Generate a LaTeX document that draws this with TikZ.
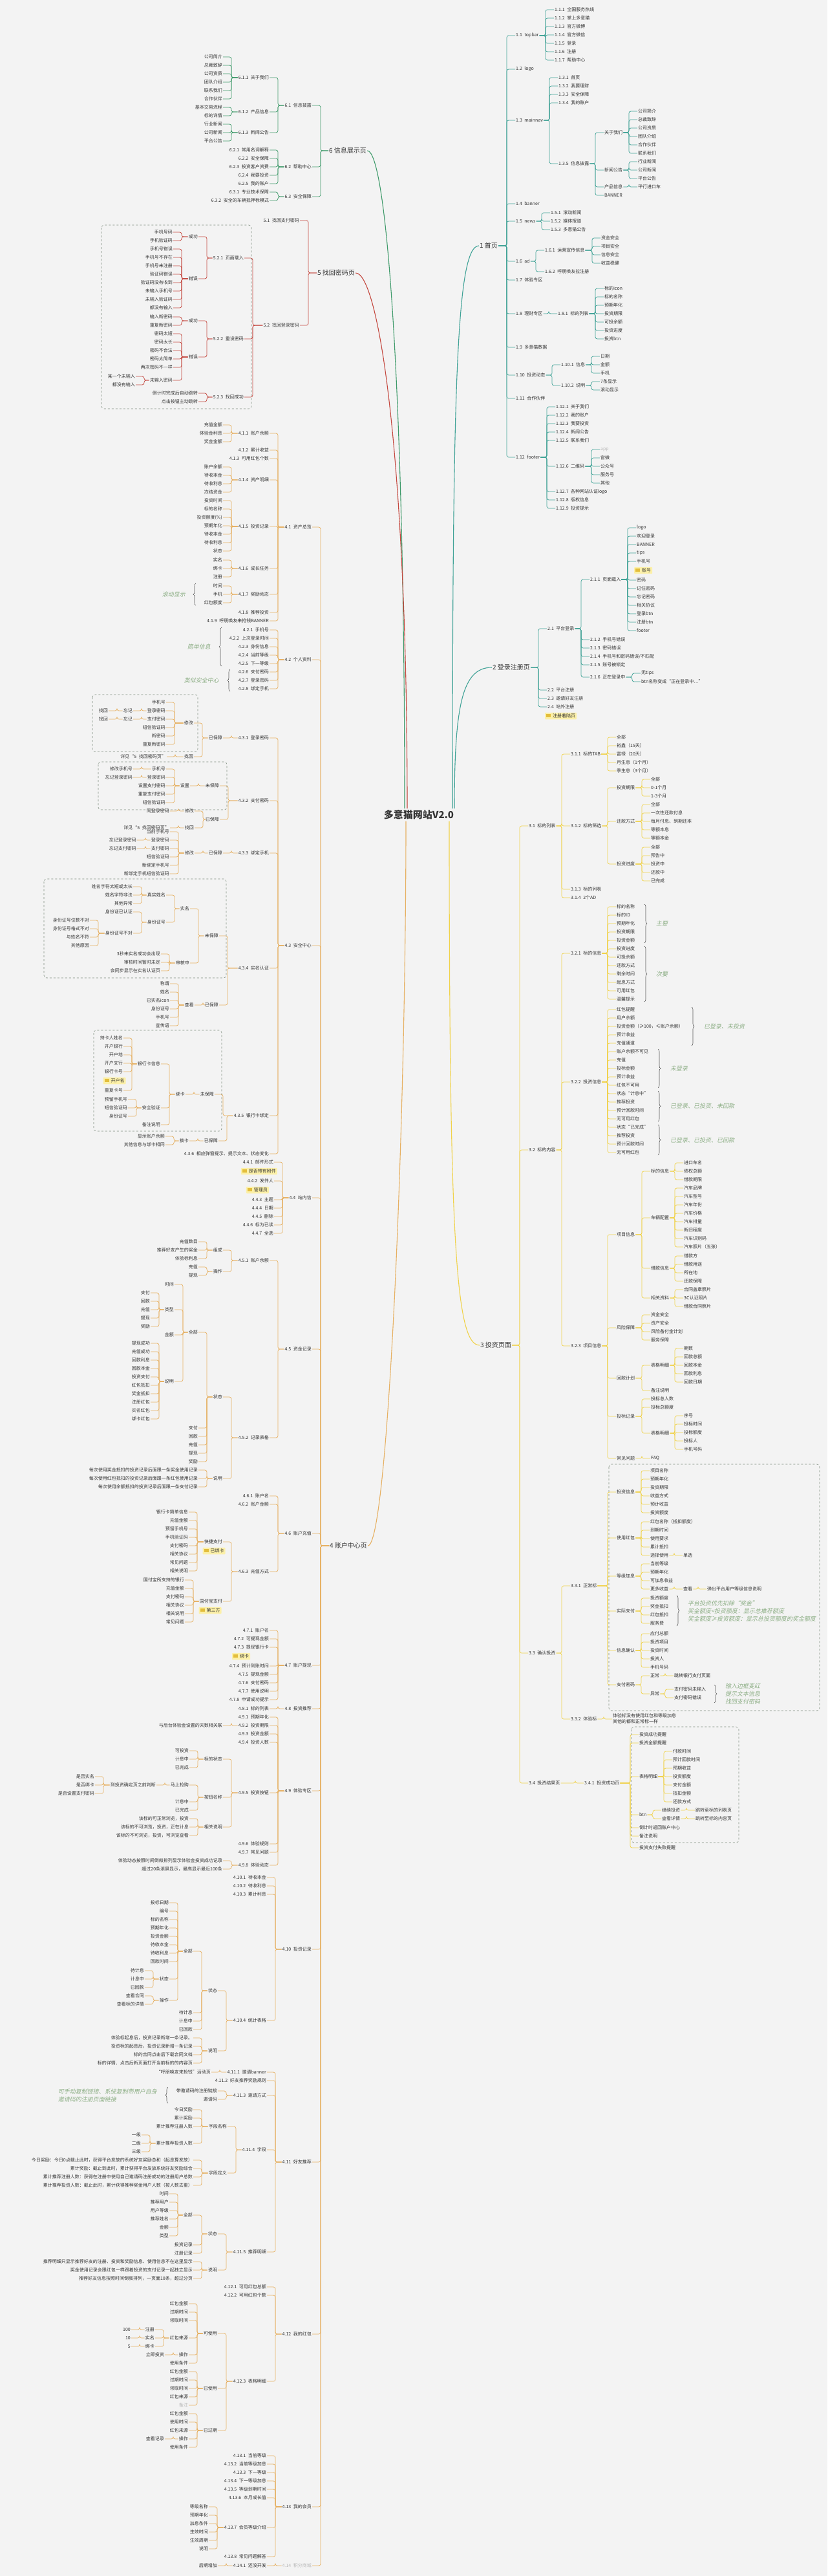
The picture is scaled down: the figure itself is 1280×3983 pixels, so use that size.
\documentclass[tikz,border=0pt]{standalone}
\usepackage{fontspec}
\setmainfont{Noto Sans CJK SC}
\newfontfamily\cjkit[FakeSlant=0.2]{Noto Sans CJK SC}
\usetikzlibrary{decorations.pathreplacing,calc}
\definecolor{bg}{HTML}{F3F3F3}
\definecolor{txt}{HTML}{333333}
\definecolor{c1}{HTML}{3FA296}
\definecolor{c3}{HTML}{F0D24A}
\definecolor{c4}{HTML}{E6B062}
\definecolor{c5}{HTML}{C4483F}
\definecolor{c6}{HTML}{3E9A6A}
\definecolor{gcol}{HTML}{8DAF86}
\definecolor{notefill}{HTML}{FCF0A8}
\definecolor{icon}{HTML}{E3BE3C}
\definecolor{dashcol}{HTML}{7D8C7D}
\definecolor{bracecol}{HTML}{555555}
\colorlet{lc}{c1}
\newcommand\fs{\fontsize{7}{9}\selectfont\spaceskip=3.5pt\relax}
\newcommand\gfs{\cjkit\fontsize{9}{12}\selectfont}
\newcommand\noteicon{{\color{icon}\rule[0.3pt]{7pt}{5pt}}\hspace{3pt}}
% right-side child: parent, name, x(west), y, text
\newcommand\kidR[5]{\node[t,anchor=west] (#2) at (#3,#4) {#5};
  \draw[ln] (#2.west) -- ++(-13,0) |- (#1.east);}
% left-side child: parent, name, x(east), y, text
\newcommand\kidL[5]{\node[t,anchor=east] (#2) at (#3,#4) {#5};
  \draw[ln] (#2.east) -- ++(13,0) |- (#1.west);}
\newcommand\grpR[5]{\foreach \xx [count=\i] in {#5}{%
  \node[t,anchor=west] (#2\i) at (#3,{#4+(\i-1)*13}) {\xx};
  \draw[ln] (#2\i.west) -- ++(-13,0) |- (#1.east);}}
\newcommand\grpL[5]{\foreach \xx [count=\i] in {#5}{%
  \node[t,anchor=east] (#2\i) at (#3,{#4+(\i-1)*13}) {\xx};
  \draw[ln] (#2\i.east) -- ++(13,0) |- (#1.west);}}
\begin{document}
\begin{tikzpicture}[x=1pt,y=-1pt,
  t/.style={font=\fs, text=txt, inner sep=1pt},
  big/.style={font=\fontsize{10}{12}\selectfont, text=txt, inner sep=1pt},
  ln/.style={draw=lc, line width=0.75pt, rounded corners=3pt},
  rootln/.style={line width=1.1pt},
  note/.style={t, fill=notefill, inner sep=2pt, rounded corners=1pt},
  gn/.style={font=\gfs, text=gcol, inner sep=1pt, align=left},
  brc/.style={draw=bracecol, decorate, decoration={brace, amplitude=4pt}, line width=0.6pt},
  dbox/.style={draw=dashcol, dashed, rounded corners=4pt, line width=0.6pt}]
\useasboundingbox (0,0) rectangle (1280,3983);
\fill[bg] (0,0) rectangle (1280,3983);

% ---------------- root -----------------
\node[font=\fontsize{15}{17}\selectfont\bfseries, text=txt] (root) at (648,1260) {多意猫网站V2.0};
\node[big,anchor=west] (b1) at (741,380) {1 首页};
\node[big,anchor=west] (b2) at (761,1032) {2 登录注册页};
\node[big,anchor=west] (b3) at (742,2080) {3 投资页面};
\node[big,anchor=west] (b6) at (508,233) {6 信息展示页};
\node[big,anchor=west] (b5) at (490,422) {5 找回密码页};
\node[big,anchor=west] (b4) at (509,2390) {4 账户中心页};
\draw[rootln,c1] ($(root.north)+(52,1)$) .. controls (700,600) and (706,380) .. (b1.west);
\draw[rootln,c1] ($(root.north)+(55,1)$) .. controls (703,1090) and (715,1032) .. (b2.west);
\draw[rootln,c3] ($(root.south)+(47,-1)$) .. controls (695,1920) and (705,2080) .. (b3.west);
\draw[rootln,c6] ($(root.north)+(-22,1)$) .. controls (626,600) and (598,233) .. (b6.east);
\draw[rootln,c5] ($(root.north)+(-18,1)$) .. controls (630,700) and (585,422) .. (b5.east);
\draw[rootln,c4] ($(root.south)+(-20,-1)$) .. controls (628,1750) and (600,2390) .. (b4.east);

% ---------------- 1 ----------------
\colorlet{lc}{c1}
\kidR{b1}{a1}{797}{55}{1.1 topbar}
\kidR{b1}{a2}{797}{107}{1.2 logo}
\kidR{b1}{a3}{797}{186}{1.3 mainnav}
\kidR{b1}{a4}{797}{315}{1.4 banner}
\kidR{b1}{a5}{797}{342}{1.5 news}
\kidR{b1}{a6}{797}{404}{1.6 ad}
\kidR{b1}{a7}{797}{433}{1.7 体验专区}
\kidR{b1}{a8}{797}{485}{1.8 理财专区}
\kidR{b1}{a9}{797}{537}{1.9 多意猫数据}
\kidR{b1}{a10}{797}{580}{1.10 投资动态}
\kidR{b1}{a11}{797}{616}{1.11 合作伙伴}
\kidR{b1}{a12}{797}{707}{1.12 footer}
\grpR{a1}{a1-}{857}{15}{1.1.1 全国服务热线,1.1.2 掌上多意猫,1.1.3 官方微博,1.1.4 官方微信,1.1.5 登录,1.1.6 注册,1.1.7 帮助中心}
\grpR{a3}{a3-}{863}{120}{1.3.1 首页,1.3.2 我要理财,1.3.3 安全保障,1.3.4 我的账户}
\kidR{a3}{a35}{863}{253}{1.3.5 信息披露}
\kidR{a35}{g1}{934}{205}{关于我们}
\kidR{a35}{g2}{934}{263}{新闻公告}
\kidR{a35}{g3}{934}{289}{产品信息}
\kidR{a35}{g4}{934}{302}{BANNER}
\grpR{g1}{g1-}{986}{172}{公司简介,总裁致辞,公司资质,团队介绍,合作伙伴,联系我们}
\grpR{g2}{g2-}{986}{250}{行业新闻,公司新闻,平台公告}
\kidR{g3}{g31}{986}{289}{平行进口车}
\grpR{a5}{a5-}{851}{329}{1.5.1 滚动新闻,1.5.2 媒体报道,1.5.3 多意猫公告}
\kidR{a6}{a61}{842}{387}{1.6.1 运营宣传信息}
\kidR{a6}{a62}{842}{420}{1.6.2 呼朋唤友拉注册}
\grpR{a61}{a61-}{929}{368}{资金安全,项目安全,信息安全,收益稳健}
\kidR{a8}{a81}{862}{485}{1.8.1 标的列表}
\grpR{a81}{a81-}{934}{446}{标的icon,标的名称,预期年化,投资期限,可投余额,投资进度,投资btn}
\kidR{a10}{a101}{867}{564}{1.10.1 信息}
\kidR{a10}{a102}{867}{596}{1.10.2 说明}
\grpR{a101}{a101-}{928}{551}{日期,金额,手机}
\grpR{a102}{a102-}{928}{590}{7条显示,滚动显示}
\grpR{a12}{a12-}{859}{629}{1.12.1 关于我们,1.12.2 我的账户,1.12.3 我要投资,1.12.4 新闻公告,1.12.5 联系我们}
\kidR{a12}{a126}{859}{721}{1.12.6 二维码}
\grpR{a12}{a12x}{859}{760}{1.12.7 各种网站认证logo,1.12.8 版权信息,1.12.9 投资提示}
\grpR{a126}{a126-}{928}{695}{{\color{gray!55}app},官微,公众号,服务号,其他}

% ---------------- 2 ----------------
\kidR{b2}{d1}{846}{972}{2.1 平台登录}
\grpR{b2}{dx}{846}{1067}{2.2 平台注册,2.3 邀请好友注册,2.4 站外注册}
\node[note,anchor=west] (dn) at (843,1107) {\noteicon 注册着陆页};
\kidR{d1}{d11}{912}{896}{2.1.1 页面载入}
\grpR{d1}{d1x}{912}{989}{2.1.2 手机号错误,2.1.3 密码错误,2.1.4 手机号和密码错误/不匹配,2.1.5 账号被锁定}
\kidR{d1}{d16}{912}{1047}{2.1.6 正在登录中}
\grpR{d11}{d11a}{984}{816}{logo,欢迎登录,BANNER,tips,手机号}
\node[note,anchor=west] (d11n) at (981,882) {\noteicon 账号};
\grpR{d11}{d11b}{984}{897}{密码,记住密码,忘记密码,相关协议,登录btn,注册btn,footer}
\kidR{d16}{d161}{991}{1041}{无tips}
\kidR{d16}{d162}{991}{1054}{btn名称变成“正在登录中…”}

% ---------------- 3 ----------------
\colorlet{lc}{c3}
\kidR{b3}{e1}{817}{1277}{3.1 标的列表}
\kidR{b3}{e2}{817}{1778}{3.2 标的内容}
\kidR{b3}{e3}{817}{2556}{3.3 确认投资}
\kidR{b3}{e4}{817}{2757}{3.4 投资结果页}
\kidR{e1}{e11}{882}{1166}{3.1.1 标的TAB}
\kidR{e1}{e12}{882}{1277}{3.1.2 标的筛选}
\grpR{e1}{e1x}{882}{1375}{3.1.3 标的列表,3.1.4 2个AD}
\grpR{e11}{e11-}{953}{1140}{全部,裕鑫（15天）,富禄（20天）,月生息（1个月）,季生息（3个月）}
\kidR{e12}{f1}{953}{1218}{投资期限}
\kidR{e12}{f2}{953}{1270}{还款方式}
\kidR{e12}{f3}{953}{1336}{投资进度}
\grpR{f1}{f1-}{1006}{1205}{全部,0-1个月,1-3个月}
\grpR{f2}{f2-}{1006}{1244}{全部,一次性还款付息,每月付息、到期还本,等额本息,等额本金}
\grpR{f3}{f3-}{1006}{1310}{全部,预告中,投资中,还款中,已完成}
\kidR{e2}{e21}{882}{1474}{3.2.1 标的信息}
\kidR{e2}{e22}{882}{1673}{3.2.2 投资信息}
\kidR{e2}{e23}{882}{2081}{3.2.3 项目信息}
\grpR{e21}{e21-}{953}{1402}{标的名称,标的ID,预期年化,投资期限,投资金额,投资进度,可投余额,还款方式,剩余时间,起息方式,可用红包,温馨提示}
\draw[brc] (997,1398) -- (997,1458);
\node[gn,anchor=west] (gz1) at (1014,1428) {主要};
\draw[brc] (997,1463) -- (997,1549);
\node[gn,anchor=west] (gz2) at (1014,1506) {次要};
\grpR{e22}{e22-}{953}{1561}{红包提醒,用户余额,投资金额（≥100，≤账户余额）,预计收益,充值通道,账户余额不可见,充值,投标金额,预计收益,红包不可用,状态“计息中”,推荐投资,预计回款时间,无可用红包,状态“已完成”,推荐投资,预计回款时间,无可用红包}
\draw[brc] (1070,1557) -- (1070,1617);
\node[gn,anchor=west] (gz3) at (1088,1587) {已登录、未投资};
\draw[brc] (1018,1622) -- (1018,1682);
\node[gn,anchor=west] (gz4) at (1036,1652) {未登录};
\draw[brc] (1018,1687) -- (1018,1734);
\node[gn,anchor=west] (gz5) at (1036,1710) {已登录、已投资、未回款};
\draw[brc] (1018,1739) -- (1018,1786);
\node[gn,anchor=west] (gz6) at (1036,1763) {已登录、已投资、已回款};
\kidR{e23}{h1}{953}{1909}{项目信息}
\kidR{e23}{h2}{953}{2053}{风险保障}
\kidR{e23}{h3}{953}{2131}{回款计划}
\kidR{e23}{h4}{953}{2190}{投标记录}
\kidR{e23}{h5}{953}{2255}{常见问题}
\kidR{h1}{h11}{1006}{1811}{标的信息}
\kidR{h1}{h12}{1006}{1883}{车辆配置}
\kidR{h1}{h13}{1006}{1961}{借款信息}
\kidR{h1}{h14}{1006}{2007}{相关资料}
\grpR{h11}{h11-}{1057}{1798}{进口车名,债权总额,借款期限}
\grpR{h12}{h12-}{1057}{1837}{汽车品牌,汽车型号,汽车年份,汽车价格,汽车排量,新旧程度,汽车识别码,汽车照片（五张）}
\grpR{h13}{h13-}{1057}{1942}{借款方,借款用途,所在地,还款保障}
\grpR{h14}{h14-}{1057}{1994}{合同盖章照片,3C认证照片,借款合同照片}
\grpR{h2}{h2-}{1006}{2033}{资金安全,资产安全,风险备付金计划,服务保障}
\kidR{h3}{h31}{1006}{2111}{表格明细}
\kidR{h3}{h32}{1006}{2150}{备注说明}
\grpR{h31}{h31-}{1057}{2085}{期数,回款总额,回款本金,回款利息,回款日期}
\grpR{h4}{h4-}{1006}{2163}{投标总人数,投标总额度}
\kidR{h4}{h43}{1006}{2216}{表格明细}
\grpR{h43}{h43-}{1057}{2189}{序号,投标时间,投标额度,投标人,手机号码}
\kidR{h5}{h51}{1006}{2255}{FAQ}
\draw[dbox] (942,2264) rectangle (1268,2645);
\kidR{e3}{e31}{882}{2452}{3.3.1 正常标}
\kidR{e3}{e32}{882}{2658}{3.3.2 体验标}
\kidR{e31}{k1}{953}{2307}{投资信息}
\kidR{e31}{k2}{953}{2378}{使用红包}
\kidR{e31}{k3}{953}{2437}{等级加息}
\kidR{e31}{k4}{953}{2491}{实际支付}
\kidR{e31}{k5}{953}{2552}{信息确认}
\kidR{e31}{k6}{953}{2605}{支付密码}
\grpR{k1}{k1-}{1005}{2274}{项目名称,预期年化,投资期限,收益方式,预计收益,投资额度}
\grpR{k2}{k2-}{1005}{2353}{红包名称（抵扣额度）,到期时间,使用要求,累计抵扣,选择使用}
\kidR{k2-5}{k25}{1056}{2405}{单选}
\grpR{k3}{k3-}{1005}{2418}{当前等级,预期年化,可加息收益,更多收益}
\kidR{k3-4}{k34}{1056}{2457}{查看}
\kidR{k34}{k35}{1093}{2457}{弹出平台用户等级信息说明}
\grpR{k4}{k4-}{1005}{2471}{投资额度,奖金抵扣,红包抵扣,服务费}
\draw[brc] (1047,2467) -- (1047,2514);
\node[gn,anchor=west] (gz7) at (1063,2491) {平台投资优先扣除“奖金”\\奖金额度<投资额度：显示总推荐额度\\奖金额度≥投资额度：显示总投资额度的奖金额度};
\grpR{k5}{k5-}{1005}{2526}{应付总额,投资项目,投资时间,投资人,手机号码}
\kidR{k6}{k61}{1005}{2591}{正常}
\kidR{k6}{k62}{1005}{2619}{异常}
\kidR{k61}{k611}{1042}{2591}{跳转银行支付页面}
\grpR{k62}{k62-}{1042}{2612}{支付密码未输入,支付密码错误}
\draw[brc] (1105,2605) -- (1105,2633);
\node[gn,anchor=west] (gz8) at (1121,2619) {输入边框变红\\提示文本信息\\找回支付密码};
\kidR{e32}{e321}{947}{2658}{\begin{tabular}{@{}l@{}}体验标没有使用红包和等级加息\\其他的都和正常标一样\end{tabular}}
\kidR{e4}{e41}{903}{2757}{3.4.1 投资成功页}
\grpR{e41}{m}{988}{2682}{投资成功提醒,投资金额提醒}
\kidR{e41}{m3}{988}{2747}{表格明细}
\kidR{e41}{m4}{988}{2806}{btn}
\grpR{e41}{m5x}{988}{2826}{倒计时返回账户中心,备注说明}
\kidR{e41}{m7}{988}{2857}{投资支付失败提醒}
\grpR{m3}{m3-}{1040}{2708}{付款时间,预计回款时间,预期收益,投资额度,支付金额,抵扣金额,还款方式}
\grpR{m4}{m4-}{1023}{2799}{继续投资,查看详情}
\kidR{m4-1}{m41}{1075}{2799}{跳转至标的列表页}
\kidR{m4-2}{m42}{1075}{2812}{跳转至标的内容页}
\draw[dbox] (977,2670) rectangle (1143,2849);

% ---------------- 6 ----------------
\colorlet{lc}{c6}
\kidL{b6}{p1}{483}{163}{6.1 信息披露}
\kidL{b6}{p2}{483}{258}{6.2 帮助中心}
\kidL{b6}{p3}{483}{304}{6.3 安全保障}
\kidL{p1}{p11}{417}{120}{6.1.1 关于我们}
\kidL{p1}{p12}{417}{173}{6.1.2 产品信息}
\kidL{p1}{p13}{417}{205}{6.1.3 新闻公告}
\grpL{p11}{p11-}{345}{88}{公司简介,总裁致辞,公司资质,团队介绍,联系我们,合作伙伴}
\grpL{p12}{p12-}{345}{166}{基本交易流程,标的详情}
\grpL{p13}{p13-}{345}{192}{行业新闻,公司新闻,平台公告}
\grpL{p2}{p2-}{417}{232}{6.2.1 常用名词解释,6.2.2 安全保障,6.2.3 投资客户资费,6.2.4 我要投资,6.2.5 我的账户}
\grpL{p3}{p3-}{417}{297}{6.3.1 专业技术保障,6.3.2 安全的车辆抵押标模式}

% ---------------- 5 ----------------
\colorlet{lc}{c5}
\kidL{b5}{q1}{464}{341}{5.1 找回支付密码}
\kidL{b5}{q2}{464}{503}{5.2 找回登录密码}
\kidL{q2}{q21}{378}{399}{5.2.1 页面载入}
\kidL{q2}{q22}{378}{524}{5.2.2 重设密码}
\kidL{q2}{q23}{378}{614}{5.2.3 找回成功}
\kidL{q21}{r1}{307}{366}{成功}
\kidL{q21}{r2}{307}{431}{错误}
\grpL{r1}{r1-}{268}{359}{手机号码,手机验证码}
\grpL{r2}{r2-}{268}{385}{手机号错误,手机号不存在,手机号未注册,验证码错误,验证码没有收到,未输入手机号,未输入验证码,都没有输入}
\kidL{q22}{r3}{307}{496}{成功}
\kidL{q22}{r4}{307}{552}{错误}
\grpL{r3}{r3-}{268}{490}{输入新密码,重复新密码}
\grpL{r4}{r4-}{268}{516}{密码太短,密码太长,密码不合法,密码太简单,两次密码不一样}
\kidL{r4}{r46}{268}{588}{未输入密码}
\grpL{r46}{r46-}{210}{582}{某一个未输入,都没有输入}
\grpL{q23}{q23-}{307}{608}{倒计时完成后自动跳转,点击按钮主动跳转}
\draw[dbox] (157,348) rectangle (389,632);

% ---------------- 4 ----------------
\colorlet{lc}{c4}
\kidL{b4}{B1}{483}{815}{4.1 资产总览}
\kidL{b4}{B2}{483}{1020}{4.2 个人资料}
\kidL{b4}{B3}{483}{1462}{4.3 安全中心}
\kidL{b4}{B4}{483}{1852}{4.4 站内信}
\kidL{b4}{B5}{483}{2086}{4.5 资金记录}
\kidL{b4}{B6}{483}{2371}{4.6 账户充值}
\kidL{b4}{B7}{483}{2575}{4.7 账户提现}
\kidL{b4}{B8}{483}{2642}{4.8 投资推荐}
\kidL{b4}{B9}{483}{2769}{4.9 体验专区}
\kidL{b4}{B10}{483}{3014}{4.10 投资记录}
\kidL{b4}{B11}{483}{3343}{4.11 好友推荐}
\kidL{b4}{B12}{483}{3609}{4.12 我的红包}
\kidL{b4}{B13}{483}{3876}{4.13 我的会员}
\kidL{b4}{B14}{483}{3967}{\color{gray!55}4.14 积分商城}
% 4.1
\kidL{B1}{s11}{417}{670}{4.1.1 账户余额}
\grpL{B1}{s1a}{417}{696}{4.1.2 累计收益,4.1.3 可用红包个数}
\kidL{B1}{s14}{417}{742}{4.1.4 资产明细}
\kidL{B1}{s15}{417}{814}{4.1.5 投资记录}
\kidL{B1}{s16}{417}{879}{4.1.6 成长任务}
\kidL{B1}{s17}{417}{919}{4.1.7 奖励动态}
\grpL{B1}{s1b}{417}{947}{4.1.8 推荐投资,4.1.9 呼朋唤友来抢钱BANNER}
\grpL{s11}{s11-}{345}{657}{充值金额,体验金利息,奖金金额}
\grpL{s14}{s14-}{345}{722}{账户余额,待收本金,待收利息,冻结资金}
\grpL{s15}{s15-}{345}{774}{投资时间,标的名称,投资额度(\%),预期年化,待收本金,待收利息,状态}
\grpL{s16}{s16-}{345}{866}{实名,绑卡,注册}
\grpL{s17}{s17-}{345}{906}{时间,手机,红包额度}
\draw[brc] (303,936) -- (303,902);
\node[gn,anchor=east] (gz9) at (288,919) {滚动显示};
% 4.2
\grpL{B2}{s2-}{417}{974}{4.2.1 手机号,4.2.2 上次登录时间,4.2.3 身份信息,4.2.4 当前等级,4.2.5 下一等级,4.2.6 支付密码,4.2.7 登录密码,4.2.8 绑定手机}
\draw[brc] (343,1030) -- (343,970);
\node[gn,anchor=east] (gz10) at (327,1000) {简单信息};
\draw[brc] (356,1069) -- (356,1035);
\node[gn,anchor=east] (gz11) at (340,1052) {类似安全中心};
% 4.3
\kidL{B3}{t1}{417}{1141}{4.3.1 登录密码}
\kidL{B3}{t2}{417}{1238}{4.3.2 支付密码}
\kidL{B3}{t3}{417}{1319}{4.3.3 绑定手机}
\kidL{B3}{t4}{417}{1497}{4.3.4 实名认证}
\kidL{B3}{t5}{417}{1725}{4.3.5 银行卡绑定}
\kidL{B3}{t6}{417}{1784}{4.3.6 相应弹窗提示、提示文本、状态变化}
\kidL{t1}{t11}{345}{1141}{已保障}
\kidL{t11}{t111}{300}{1118}{修改}
\kidL{t11}{t112}{300}{1170}{找回}
\grpL{t111}{t111-}{257}{1086}{手机号,登录密码,支付密码,短信验证码,新密码,重复新密码}
\kidL{t111-2}{u1}{206}{1099}{忘记}
\kidL{u1}{u2}{168}{1099}{找回}
\kidL{t111-3}{u3}{206}{1112}{忘记}
\kidL{u3}{u4}{168}{1112}{找回}
\kidL{t112}{u5}{258}{1170}{详见“5 找回密码页”}
\draw[dbox] (143,1074) rectangle (306,1162);
\kidL{t2}{t21}{340}{1215}{未保障}
\kidL{t2}{t22}{340}{1267}{已保障}
\kidL{t21}{t211}{294}{1215}{设置}
\grpL{t211}{t211-}{257}{1189}{手机号,登录密码,设置支付密码,重复支付密码,短信验证码}
\kidL{t211-1}{u6}{206}{1189}{修改手机号}
\kidL{t211-2}{u7}{206}{1202}{忘记登录密码}
\draw[dbox] (152,1178) rectangle (351,1252);
\kidL{t22}{t221}{301}{1254}{修改}
\kidL{t22}{t222}{301}{1280}{找回}
\kidL{t221}{u8}{263}{1254}{同登录密码}
\kidL{t222}{u9}{263}{1280}{详见“5 找回密码页”}
\kidL{t3}{t31}{345}{1319}{已保障}
\kidL{t31}{t311}{301}{1319}{修改}
\grpL{t311}{t311-}{263}{1286}{当前手机号,登录密码,支付密码,短信验证码,新绑定手机号,新绑定手机短信验证码}
\kidL{t311-2}{u10}{212}{1299}{忘记登录密码}
\kidL{t311-3}{u11}{212}{1312}{忘记支付密码}
\kidL{t4}{t41}{339}{1447}{未保障}
\kidL{t4}{t42}{339}{1554}{已保障}
\kidL{t41}{t411}{294}{1405}{实名}
\kidL{t41}{t412}{294}{1489}{审核中}
\kidL{t411}{v1}{257}{1384}{真实姓名}
\kidL{t411}{v2}{257}{1426}{身份证号}
\grpL{v1}{v1-}{206}{1371}{姓名字符太短或太长,姓名字符非法,其他异常}
\kidL{v2}{v21}{206}{1410}{身份证已认证}
\kidL{v2}{v22}{206}{1443}{身份证号不对}
\grpL{v22}{v22-}{139}{1423}{身份证号位数不对,身份证号格式不对,与姓名不符,其他原因}
\grpL{t412}{t412-}{249}{1475}{3秒未实名成功会出现,审核时间暂时未定,会同步显示在实名认证页}
\draw[dbox] (68,1359) rectangle (350,1512);
\kidL{t42}{t421}{301}{1554}{查看}
\grpL{t421}{t421-}{263}{1521}{称谓,姓名,已实名icon,身份证号,手机号,宣传语}
\kidL{t5}{t51}{332}{1692}{未保障}
\kidL{t5}{t52}{338}{1764}{已保障}
\kidL{t51}{t511}{287}{1692}{绑卡}
\kidL{t511}{w1}{249}{1645}{银行卡信息}
\kidL{t511}{w2}{249}{1713}{安全验证}
\kidL{t511}{w3}{249}{1739}{备注说明}
\grpL{w1}{w1-}{191}{1605}{持卡人姓名,开户银行,开户地,开户支行,银行卡号}
\node[note] (wn) at (177,1671) {\noteicon 开户名};
\kidL{w1}{w16}{191}{1686}{重复卡号}
\grpL{w2}{w2-}{198}{1700}{预留手机号,短信验证码,身份证号}
\draw[dbox] (145,1593) rectangle (343,1749);
\kidL{t52}{t521}{293}{1764}{换卡}
\grpL{t521}{t521-}{256}{1757}{显示账户余额,其他信息与绑卡相同}
% 4.4
\kidL{B4}{x1}{424}{1797}{4.4.1 邮件形式}
\node[note,anchor=east] (x1n) at (429,1811) {\noteicon 是否带有附件};
\kidL{B4}{x2}{424}{1826}{4.4.2 发件人}
\node[note,anchor=east] (x2n) at (416,1840) {\noteicon 管理员};
\grpL{B4}{x3}{424}{1855}{4.4.3 主题,4.4.4 日期,4.4.5 删除,4.4.6 标为已读,4.4.7 全选}
% 4.5
\kidL{B5}{y1}{417}{1949}{4.5.1 账户余额}
\kidL{B5}{y2}{417}{2223}{4.5.2 记录表格}
\kidL{y1}{y11}{345}{1933}{组成}
\kidL{y1}{y12}{345}{1966}{操作}
\grpL{y11}{y11-}{307}{1920}{充值数目,推荐好友产生的奖金,体验标利息}
\grpL{y12}{y12-}{307}{1959}{充值,提现}
\kidL{y2}{y21}{345}{2160}{状态}
\kidL{y2}{y22}{345}{2286}{说明}
\kidL{y21}{y211}{307}{2060}{全部}
\grpL{y21}{y21x}{307}{2208}{支付,回款,充值,提现,奖励}
\kidL{y211}{z1}{270}{1986}{时间}
\kidL{y211}{z2}{270}{2025}{类型}
\kidL{y211}{z3}{270}{2064}{金额}
\kidL{y211}{z4}{270}{2136}{说明}
\grpL{z2}{z2-}{233}{1999}{支付,回款,充值,提现,奖励}
\grpL{z4}{z4-}{233}{2077}{提现成功,充值成功,回款利息,回款本金,投资支付,红包抵扣,奖金抵扣,注册红包,实名红包,绑卡红包}
\grpL{y22}{y22-}{307}{2273}{每次使用奖金抵扣的投资记录后面跟一条奖金使用记录,每次使用红包抵扣的投资记录后面跟一条红包使用记录,每次使用余额抵扣的投资记录后面跟一条支付记录}
% 4.6
\grpL{B6}{s6a}{417}{2313}{4.6.1 账户名,4.6.2 账户金额}
\kidL{B6}{s63}{417}{2430}{4.6.3 充值方式}
\kidL{s63}{aa1}{345}{2384}{快捷支付}
\node[note] (aa1n) at (331,2398) {\noteicon 已绑卡};
\kidL{s63}{aa2}{345}{2476}{国付宝支付}
\node[note] (aa2n) at (325,2490) {\noteicon 第三方};
\grpL{aa1}{aa1-}{292}{2338}{银行卡简单信息,充值金额,预留手机号,手机验证码,支付密码,相关协议,常见问题,相关说明}
\grpL{aa2}{aa2-}{286}{2443}{国付宝所支持的银行,充值金额,支付密码,相关协议,相关说明,常见问题}
% 4.7
\grpL{B7}{s7a}{417}{2521}{4.7.1 账户名,4.7.2 可提现金额,4.7.3 提现银行卡}
\node[note] (s7n) at (373,2561) {\noteicon 绑卡};
\grpL{B7}{s7b}{417}{2576}{4.7.4 预计到账时间,4.7.5 提现金额,4.7.6 支付密码,4.7.7 使用说明,4.7.8 申请成功提示}
% 4.8
\kidL{B8}{s81}{417}{2642}{4.8.1 标的列表}
% 4.9
\kidL{B9}{ab1}{417}{2655}{4.9.1 预期年化}
\kidL{B9}{ab2}{417}{2668}{4.9.2 投资期限}
\grpL{B9}{ab3x}{417}{2681}{4.9.3 投资金额,4.9.4 投资人数}
\kidL{B9}{ab5}{417}{2772}{4.9.5 投资按钮}
\grpL{B9}{ab6x}{417}{2851}{4.9.6 体验规则,4.9.7 常见问题}
\kidL{B9}{ab8}{417}{2884}{4.9.8 体验动态}
\kidL{ab2}{ab21}{345}{2668}{与后台体验金设置的天数相关联}
\kidL{ab5}{ac1}{345}{2720}{标的状态}
\kidL{ab5}{ac2}{345}{2779}{按钮名称}
\kidL{ab5}{ac3}{345}{2825}{相关说明}
\grpL{ac1}{ac1-}{293}{2707}{可投资,计息中,已完成}
\kidL{ac2}{ac21}{293}{2760}{马上抢购}
\grpL{ac2}{ac2x}{293}{2786}{计息中,已完成}
\kidL{ac21}{ac211}{242}{2760}{到投资确定页之前判断}
\grpL{ac211}{ac211-}{147}{2747}{是否实名,是否绑卡,是否设置支付密码}
\grpL{ac3}{ac3-}{293}{2812}{该标的可正常浏览，投资,该标的不可浏览，投资，正在计息,该标的不可浏览，投资，可浏览查看}
\grpL{ab8}{ab8-}{345}{2877}{体验动态按照时间倒叙排列显示体验金投资成功记录,超过20条滚屏显示，最高显示最近100条}
% 4.10
\grpL{B10}{s10a}{413}{2903}{4.10.1 待收本金,4.10.2 待收利息,4.10.3 累计利息}
\kidL{B10}{s104}{413}{3124}{4.10.4 统计表格}
\kidL{s104}{ad1}{337}{3078}{状态}
\kidL{s104}{ad2}{337}{3171}{说明}
\kidL{ad1}{ad11}{299}{3017}{全部}
\grpL{ad1}{ad1x}{299}{3112}{待计息,计息中,已回款}
\grpL{ad11}{ad11-}{262}{2942}{投标日期,编号,标的名称,预期年化,投资金额,待收本金,待收利息,回款时间}
\kidL{ad11}{ad119}{262}{3060}{状态}
\kidL{ad11}{ad1110}{262}{3093}{操作}
\grpL{ad119}{ad119-}{224}{3047}{待计息,计息中,已回款}
\grpL{ad1110}{ad1110-}{224}{3086}{查看合同,查看标的详情}
\grpL{ad2}{ad2-}{299}{3151}{体验标起息后，投资记录新增一条记录。,投资标的起息后，投资记录新增一条记录,标的合同点击后下载合同文档,标的详情、点击后新页面打开当前标的的内容页}
% 4.11
\kidL{B11}{ae1}{413}{3204}{4.11.1 邀请banner}
\kidL{B11}{ae2}{413}{3217}{4.11.2 好友推荐奖励规则}
\kidL{B11}{ae3}{413}{3240}{4.11.3 邀请方式}
\kidL{B11}{ae4}{413}{3324}{4.11.4 字段}
\kidL{B11}{ae5}{413}{3482}{4.11.5 推荐明细}
\kidL{ae1}{ae11}{327}{3204}{“呼朋唤友来抢钱”活动页}
\grpL{ae3}{ae3-}{337}{3233}{带邀请码的注册链接,邀请码}
\draw[brc] (260,3252) -- (260,3227);
\node[gn,anchor=east] (gz12) at (244,3240) {可手动复制链接、系统复制带用户自身\\邀请码的注册页面链接};
\kidL{ae4}{af1}{352}{3288}{字段名称}
\kidL{ae4}{af2}{352}{3360}{字段定义}
\grpL{af1}{af1-}{299}{3262}{今日奖励,累计奖励,累计推荐注册人数}
\kidL{af1}{af14}{299}{3314}{累计推荐投资人数}
\grpL{af14}{af14-}{219}{3301}{一级,二级,三级}
\grpL{af2}{af2-}{299}{3340}{今日奖励：今日0点截止此时，获得平台发放的系统好友奖励总和（起息算发放）,累计奖励：截止到此时，累计获得平台发放系统好友奖励综合,累计推荐注册人数：获得在注册中使用自己邀请码注册成功的注册用户总数,累计推荐投资人数：截止此时，累计获得推荐奖金用户人数（按人数去重）}
\kidL{ae5}{ag1}{337}{3454}{状态}
\kidL{ae5}{ag2}{337}{3510}{说明}
\kidL{ag1}{ag11}{299}{3425}{全部}
\grpL{ag1}{ag1x}{299}{3471}{投资记录,注册记录}
\grpL{ag11}{ag11-}{262}{3392}{时间,推荐用户,用户等级,推荐姓名,金额,类型}
\grpL{ag2}{ag2-}{299}{3497}{推荐明细只显示推荐好友的注册、投资和奖励信息、使用信息不在这里显示,奖金使用记录会跟红包一样跟着投资的支付记录一起独立显示,推荐好友信息按照时间倒叙排列，一页面10条，超过分页}
% 4.12
\grpL{B12}{ah}{413}{3536}{4.12.1 可用红包总额,4.12.2 可用红包个数}
\kidL{B12}{ah3}{413}{3682}{4.12.3 表格明细}
\kidL{ah3}{ai1}{337}{3608}{可使用}
\kidL{ah3}{ai2}{337}{3693}{已使用}
\kidL{ah3}{ai3}{337}{3758}{已过期}
\grpL{ai1}{ai1-}{292}{3562}{红包金额,过期时间,领取时间}
\kidL{ai1}{ai14}{292}{3615}{红包来源}
\grpL{ai1}{ai1y}{292}{3641}{操作,使用条件}
\grpL{ai14}{ai14-}{240}{3602}{注册,实名,绑卡}
\kidL{ai14-1}{aj1}{203}{3602}{100}
\kidL{ai14-2}{aj2}{203}{3615}{10}
\kidL{ai14-3}{aj3}{203}{3628}{5}
\kidL{ai1y1}{aj4}{255}{3641}{立即投资}
\grpL{ai2}{ai2-}{292}{3667}{红包金额,过期时间,领取时间,红包来源,{\color{gray!55}备注}}
\grpL{ai3}{ai3-}{292}{3732}{红包金额,使用时间,红包来源,操作,使用条件}
\kidL{ai3-4}{aj5}{255}{3771}{查看记录}
% 4.13
\grpL{B13}{ak}{413}{3797}{4.13.1 当前等级,4.13.2 当前等级加息,4.13.3 下一等级,4.13.4 下一等级加息,4.13.5 等级到期时间,4.13.6 本月成长值}
\kidL{B13}{ak7}{413}{3908}{4.13.7 会员等级介绍}
\kidL{B13}{ak8}{413}{3953}{4.13.8 常见问题解答}
\grpL{ak7}{ak7-}{323}{3876}{等级名称,预期年化,加息条件,生效时间,生效周期,说明}
% 4.14
\kidL{B14}{al1}{413}{3967}{4.14.1 还没开发}
\kidL{al1}{al2}{337}{3967}{后期增加}
\end{tikzpicture}
\end{document}
